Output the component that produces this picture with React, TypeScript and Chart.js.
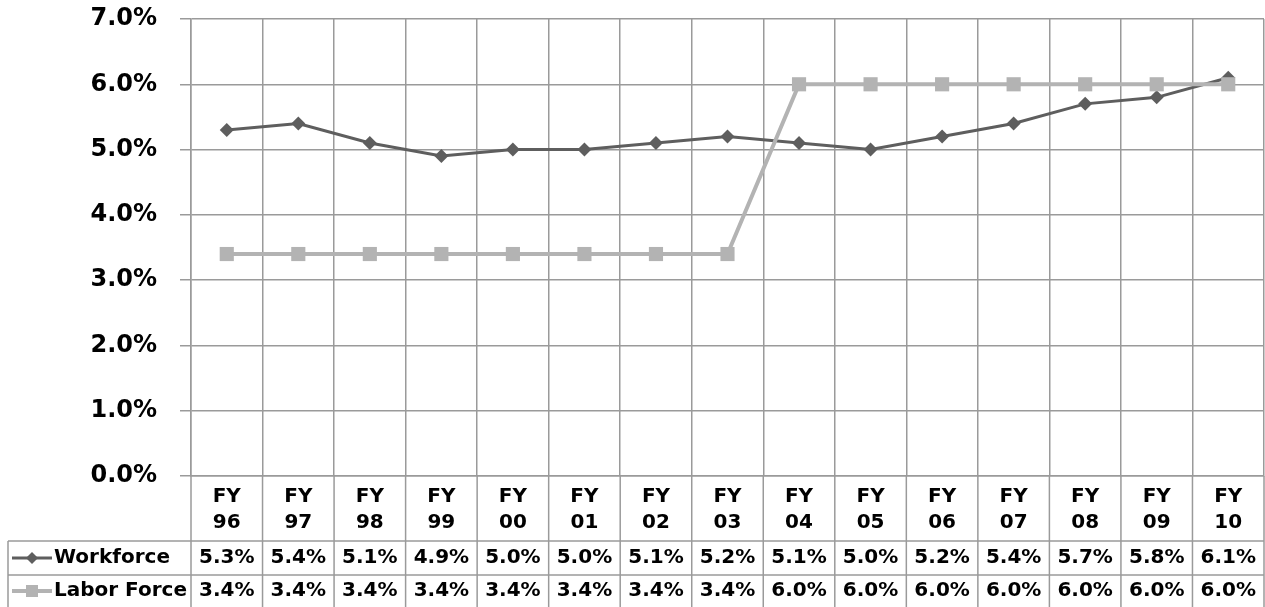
import React, { useEffect, useRef } from "react";
import { Chart, registerables } from "chart.js";

Chart.register(...registerables);

const categories: string[] = ["96", "97", "98", "99", "00", "01", "02", "03", "04", "05", "06", "07", "08", "09", "10"];
const categoryPrefix = "FY";
const workforce: number[] = [5.3, 5.4, 5.1, 4.9, 5.0, 5.0, 5.1, 5.2, 5.1, 5.0, 5.2, 5.4, 5.7, 5.8, 6.1];
const laborForce: number[] = [3.4, 3.4, 3.4, 3.4, 3.4, 3.4, 3.4, 3.4, 6.0, 6.0, 6.0, 6.0, 6.0, 6.0, 6.0];
const seriesNames: string[] = ["Workforce", "Labor Force"];
const yMin = 0;
const yMax = 7;
const yStep = 1;

const DARK = "#5e5e5e";
const LIGHT = "#b3b3b3";
const GRID = "#9a9a9a";
const FONT = "'DejaVu Sans', Verdana, sans-serif";

const tablePlugin = {
  id: "dataTable",
  afterDraw(chart: any) {
    const { ctx, chartArea } = chart;
    const xs = chart.scales.x;
    const H = chart.height;
    const n = categories.length;
    const w = (chartArea.right - chartArea.left) / n;
    const headerBottom = chartArea.bottom + 65;
    const row1Bottom = headerBottom + 34;
    const tableLeft = 8;
    ctx.save();
    ctx.strokeStyle = GRID;
    ctx.lineWidth = 1.5;
    for (let i = 0; i <= n; i++) {
      const x = chartArea.left + i * w;
      ctx.beginPath();
      ctx.moveTo(x, chartArea.bottom);
      ctx.lineTo(x, H);
      ctx.stroke();
    }
    ctx.beginPath();
    ctx.moveTo(tableLeft, headerBottom);
    ctx.lineTo(chartArea.right, headerBottom);
    ctx.moveTo(tableLeft, row1Bottom);
    ctx.lineTo(chartArea.right, row1Bottom);
    ctx.moveTo(tableLeft, headerBottom);
    ctx.lineTo(tableLeft, H);
    ctx.stroke();

    ctx.fillStyle = "#000";
    ctx.textAlign = "center";
    ctx.textBaseline = "middle";
    ctx.font = `bold 20px ${FONT}`;
    for (let i = 0; i < n; i++) {
      const cx = xs.getPixelForValue(i);
      ctx.fillText(categoryPrefix, cx, chartArea.bottom + 21);
      ctx.fillText(categories[i], cx, chartArea.bottom + 47);
      ctx.fillText(workforce[i].toFixed(1) + "%", cx, headerBottom + 17);
      ctx.fillText(laborForce[i].toFixed(1) + "%", cx, row1Bottom + 16);
    }
    const r1 = headerBottom + 17;
    const r2 = row1Bottom + 16;
    ctx.textAlign = "left";
    ctx.fillText(seriesNames[0], 54, r1);
    ctx.fillText(seriesNames[1], 54, r2);
    ctx.lineWidth = 3;
    ctx.strokeStyle = DARK;
    ctx.beginPath();
    ctx.moveTo(12, r1);
    ctx.lineTo(52, r1);
    ctx.stroke();
    ctx.fillStyle = DARK;
    ctx.beginPath();
    ctx.moveTo(32 - 6, r1);
    ctx.lineTo(32, r1 - 6);
    ctx.lineTo(32 + 6, r1);
    ctx.lineTo(32, r1 + 6);
    ctx.closePath();
    ctx.fill();
    ctx.strokeStyle = LIGHT;
    ctx.lineWidth = 4;
    ctx.beginPath();
    ctx.moveTo(12, r2);
    ctx.lineTo(52, r2);
    ctx.stroke();
    ctx.fillStyle = LIGHT;
    ctx.fillRect(32 - 6, r2 - 6, 12, 12);
    ctx.restore();
  },
};

export default function App() {
  const ref = useRef<HTMLCanvasElement>(null);
  useEffect(() => {
    if (!ref.current) return;
    const chart = new Chart(ref.current, {
      type: "line",
      data: {
        labels: categories.map((c) => categoryPrefix + " " + c),
        datasets: [
          {
            label: seriesNames[0],
            data: workforce,
            borderColor: DARK,
            backgroundColor: DARK,
            borderWidth: 3,
            pointStyle: "rectRot",
            pointRadius: 7,
            pointBorderWidth: 0,
            tension: 0,
            order: 2,
          },
          {
            label: seriesNames[1],
            data: laborForce,
            borderColor: LIGHT,
            backgroundColor: LIGHT,
            borderWidth: 4,
            pointStyle: "rect",
            pointRadius: 10,
            pointBorderWidth: 0,
            tension: 0,
            order: 1,
          },
        ],
      },
      options: {
        animation: false,
        responsive: false,
        maintainAspectRatio: false,
        layout: { autoPadding: false, padding: { top: 19, right: 1, left: 0, bottom: 0 } },
        plugins: { legend: { display: false }, tooltip: { enabled: false } },
        scales: {
          x: {
            offset: true,
            grid: { offset: true, color: GRID, lineWidth: 1.5, drawTicks: false },
            border: { display: true, color: GRID, width: 1.5 },
            ticks: { display: false },
            afterFit: (s: any) => {
              s.height = 131;
              s.paddingLeft = 0;
              s.paddingRight = 0;
            },
          },
          y: {
            min: yMin,
            max: yMax,
            grid: { color: GRID, lineWidth: 1.5, tickLength: 11, drawTicks: true },
            border: { display: true, color: GRID, width: 1.5 },
            ticks: {
              stepSize: yStep,
              padding: 23,
              color: "#000",
              font: { family: FONT, size: 24, weight: "bold" },
              callback: (v: any) => Number(v).toFixed(1) + "%",
            },
            afterFit: (s: any) => {
              s.width = 191;
              s.paddingTop = 0;
              s.paddingBottom = 0;
            },
          },
        },
      },
      plugins: [tablePlugin],
    });
    return () => chart.destroy();
  }, []);
  return (
    <div style={{ position: "fixed", left: 0, top: 0, width: 1265, height: 607, background: "#fff" }}>
      <canvas ref={ref} width={1265} height={607} style={{ width: 1265, height: 607 }} />
    </div>
  );
}
